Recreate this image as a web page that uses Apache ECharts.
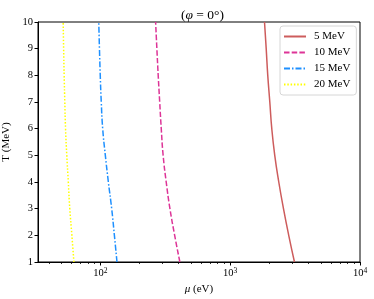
<!DOCTYPE html>
<html><head><meta charset="utf-8">
<script src="https://cdn.jsdelivr.net/npm/echarts@6/dist/echarts.min.js"></script>
<style>html,body{margin:0;padding:0;background:#fff}#c{width:374px;height:299px}</style>
</head><body><div id="c"></div>
<script>
var T = [1, 2, 3, 4, 5, 6, 7, 8, 9, 10];
var mu5  = [3126, 2823, 2572, 2366, 2203, 2090, 2018, 1946, 1893, 1837];
var mu10 = [409, 373, 343, 321, 304, 294, 286, 278.5, 272, 266];
var mu15 = [134, 128, 122, 115, 109, 104, 101.4, 99.6, 98.2, 97];
var mu20 = [62.4, 60.2, 58.0, 56.5, 55.0, 53.8, 53.1, 52.5, 52.0, 51.6];
var names = ['5 MeV', '10 MeV', '15 MeV', '20 MeV'];
var xMajor = [100, 1000, 10000];
var xMinor = [40, 50, 60, 70, 80, 90, 200, 300, 400, 500, 600, 700, 800, 900, 2000, 3000, 4000, 5000, 6000, 7000, 8000, 9000];
var yTicks = [1, 2, 3, 4, 5, 6, 7, 8, 9, 10];

function pairs(mu) { return mu.map(function (m, i) { return [m, T[i]]; }); }
var FONT = 'Liberation Serif';
var colors = ['#cd5c5c', '#dd3497', '#1e90ff', '#ffff00'];
var dashes = ['solid', [5.5, 2.2], [6, 2, 1.5, 2], [1.5, 1.8]];
var sets = [mu5, mu10, mu15, mu20];

var chart = echarts.init(document.getElementById('c'));
chart.setOption({
  animation: false,
  title: {
    text: '({i|φ} = 0°)', left: 176, top: 3,
    textStyle: { fontFamily: FONT, fontSize: 13.5, fontWeight: 'normal', color: '#000',
      rich: { i: { fontFamily: FONT, fontStyle: 'italic', fontSize: 13.5, color: '#000' } } }
  },
  legend: {
    data: names, orient: 'vertical', left: 280, top: 26,
    itemWidth: 22, itemHeight: 10, itemGap: 5,
    padding: [5, 6, 5, 3],
    itemStyle: { opacity: 0 },
    borderColor: '#d6d6d6', borderWidth: 1, borderRadius: 3,
    textStyle: { fontFamily: FONT, fontSize: 11, color: '#000', padding: [0, 0, 0, 3] }
  },
  grid: { left: 38, right: 14, top: 22, bottom: 37, show: true, borderColor: '#000', borderWidth: 1, outerBoundsMode: 'none', containLabel: false },
  xAxis: [{
    type: 'log', logBase: 10, min: 33, max: 10000,
    name: '{i|μ} (eV)', nameLocation: 'middle', nameGap: 21,
    nameTextStyle: { fontFamily: FONT, fontSize: 11, color: '#000', rich: { i: { fontFamily: FONT, fontStyle: 'italic', fontSize: 11, color: '#000' } } },
    axisLine: { lineStyle: { color: '#000', width: 1 } },
    axisTick: { length: 3.5, lineStyle: { color: '#000' }, customValues: xMajor },
    axisLabel: {
      customValues: xMajor, margin: 5, color: '#000', fontFamily: FONT, fontSize: 10.5,
      formatter: function (v) { var e = Math.round(Math.log10(v)); return '{b|10}{s|' + e + '}'; },
      rich: { b: { fontFamily: FONT, fontSize: 10.5, color: '#000' }, s: { fontFamily: FONT, fontSize: 7.5, color: '#000', verticalAlign: 'top', padding: [0, 0, 5, 0] } }
    },
    splitLine: { show: false }, minorTick: { show: false }
  }, {
    type: 'log', logBase: 10, min: 33, max: 10000, position: 'bottom',
    axisLine: { show: false },
    axisTick: { length: 2, lineStyle: { color: '#000', width: 0.8 }, customValues: xMinor },
    axisLabel: { show: false }, splitLine: { show: false }
  }],
  yAxis: {
    type: 'value', min: 1, max: 10, interval: 1,
    name: 'T (MeV)', nameLocation: 'middle', nameGap: 25,
    nameTextStyle: { fontFamily: FONT, fontSize: 11, color: '#000' },
    axisLine: { show: true, lineStyle: { color: '#000', width: 1 } },
    axisTick: { show: true, length: 3.5, lineStyle: { color: '#000' } },
    axisLabel: { margin: 5, color: '#000', fontFamily: FONT, fontSize: 10.5 },
    splitLine: { show: false }
  },
  series: sets.map(function (mu, k) {
    return {
      name: names[k], type: 'line', xAxisIndex: 0, data: pairs(mu), symbol: 'none', smooth: true,
      lineStyle: { color: colors[k], width: 1.5, type: dashes[k] },
      itemStyle: { color: colors[k] }
    };
  })
});
</script></body></html>
